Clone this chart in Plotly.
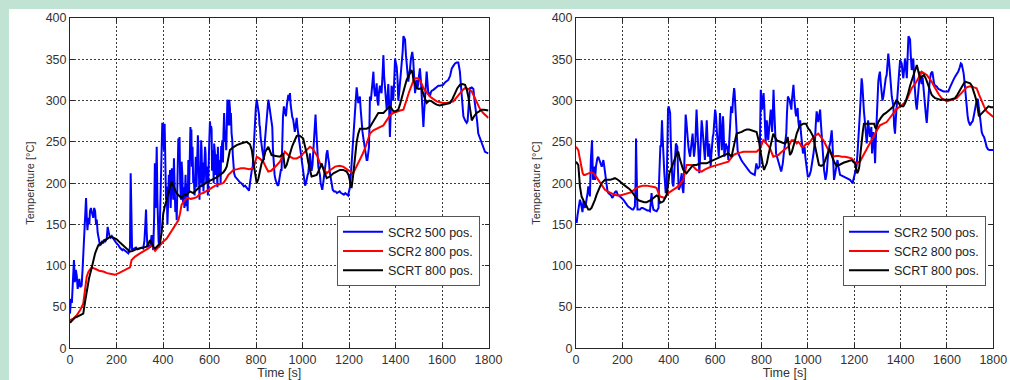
import plotly.graph_objects as go

# ---- measured temperatures: (time [s], temperature [°C]) ----
# Left panel
left_scr2_500 = [
    (0, 42), (4, 60), (8, 55), (12, 80), (17, 107), (21, 80), (25, 95), (29, 88), (33, 72), (36, 78),
    (40, 84), (44, 74), (50, 76), (54, 95), (57, 111), (62, 140), (66, 165), (69, 182), (72, 160), (75, 143),
    (79, 158), (83, 150), (86, 166), (90, 170), (93, 166), (97, 162), (100, 158), (104, 170), (108, 166), (112, 150),
    (115, 156), (119, 140), (122, 135), (126, 128), (129, 125), (134, 126), (139, 130), (143, 127), (148, 132), (153, 130),
    (158, 133), (162, 147), (166, 140), (169, 137), (175, 134), (180, 136), (186, 133), (192, 130), (198, 128), (204, 126),
    (208, 125), (214, 122), (220, 120), (225, 119), (229, 120), (236, 118), (242, 117), (247, 116), (251, 115), (255, 118),
    (258, 123), (261, 212), (264, 140), (267, 119), (272, 120), (278, 121), (284, 122), (290, 120), (296, 121), (302, 121),
    (308, 122), (315, 121), (320, 130), (324, 150), (327, 168), (330, 140), (333, 123), (338, 124), (344, 123), (348, 130),
    (351, 137), (355, 125), (358, 119), (362, 160), (365, 224), (368, 170), (370, 198), (373, 244), (376, 180), (378, 150),
    (381, 130), (384, 122), (387, 160), (390, 200), (394, 250), (397, 273), (401, 268), (404, 240), (407, 272), (410, 220),
    (413, 180), (416, 196), (419, 150), (422, 175), (425, 210), (428, 190), (430, 216), (433, 170), (436, 195), (438, 218),
    (441, 205), (444, 180), (447, 230), (450, 200), (453, 165), (456, 180), (459, 155), (462, 200), (464, 240), (466, 254),
    (469, 230), (471, 256), (474, 200), (477, 180), (480, 226), (483, 212), (486, 175), (489, 195), (492, 170), (494, 188),
    (497, 210), (500, 172), (503, 200), (506, 166), (509, 228), (512, 190), (515, 240), (518, 268), (520, 250), (522, 265),
    (524, 220), (527, 244), (530, 200), (533, 204), (536, 185), (539, 222), (541, 232), (544, 195), (547, 240), (550, 258),
    (552, 245), (555, 210), (557, 180), (559, 220), (562, 200), (564, 252), (566, 240), (569, 195), (572, 225), (574, 190),
    (576, 220), (579, 230), (581, 244), (583, 236), (586, 200), (588, 215), (591, 220), (593, 185), (596, 240), (599, 250),
    (602, 275), (605, 262), (607, 269), (609, 265), (611, 215), (613, 240), (616, 232), (618, 200), (620, 248), (623, 238),
    (626, 210), (628, 235), (631, 222), (634, 195), (636, 244), (638, 232), (641, 210), (643, 228), (645, 222), (648, 200),
    (650, 245), (652, 238), (655, 252), (658, 225), (660, 260), (663, 285), (666, 250), (669, 264), (672, 240), (675, 280),
    (677, 301), (680, 298), (682, 270), (685, 301), (688, 290), (690, 270), (692, 285), (695, 260), (698, 252), (700, 235),
    (703, 218), (706, 212), (710, 208), (715, 206), (720, 204), (725, 203), (731, 201), (737, 200), (743, 198), (748, 196),
    (753, 197), (758, 195), (763, 193), (770, 191), (774, 200), (778, 212), (782, 216), (786, 220), (790, 245), (793, 268),
    (796, 268), (799, 290), (803, 301), (806, 295), (810, 283), (813, 283), (815, 270), (817, 268), (820, 255), (822, 248),
    (824, 248), (827, 240), (830, 235), (834, 228), (838, 250), (842, 265), (846, 273), (849, 290), (853, 301), (856, 296),
    (860, 289), (863, 280), (867, 272), (870, 268), (873, 240), (877, 218), (880, 210), (884, 204), (888, 200), (892, 198),
    (896, 197), (900, 205), (903, 210), (907, 216), (910, 216), (913, 250), (916, 280), (920, 293), (923, 290), (926, 284),
    (929, 281), (933, 295), (936, 305), (939, 307), (942, 300), (946, 309), (949, 295), (953, 285), (956, 280), (960, 277),
    (963, 270), (967, 262), (971, 270), (975, 279), (978, 268), (982, 260), (985, 250), (989, 240), (992, 235), (996, 228),
    (999, 224), (1003, 215), (1007, 205), (1011, 197), (1015, 200), (1018, 206), (1022, 210), (1025, 212), (1029, 230), (1032, 236),
    (1036, 222), (1039, 215), (1043, 222), (1046, 240), (1050, 260), (1053, 275), (1056, 283), (1059, 265), (1061, 250), (1064, 232),
    (1068, 220), (1071, 215), (1075, 210), (1078, 200), (1082, 196), (1085, 192), (1089, 200), (1093, 208), (1096, 215), (1100, 225),
    (1103, 235), (1107, 240), (1110, 232), (1114, 225), (1117, 214), (1121, 205), (1125, 198), (1130, 192), (1136, 190), (1142, 190),
    (1148, 188), (1154, 189), (1160, 190), (1166, 188), (1172, 187), (1178, 186), (1184, 188), (1190, 186), (1196, 185), (1200, 190),
    (1204, 195), (1208, 210), (1212, 230), (1215, 245), (1218, 250), (1222, 270), (1226, 286), (1229, 300), (1233, 316), (1236, 308),
    (1240, 297), (1243, 300), (1247, 305), (1250, 290), (1254, 268), (1258, 262), (1261, 256), (1265, 248), (1269, 236), (1272, 232),
    (1276, 228), (1279, 228), (1283, 236), (1286, 244), (1288, 270), (1290, 305), (1294, 300), (1297, 313), (1301, 325), (1305, 335),
    (1308, 315), (1312, 305), (1315, 310), (1319, 321), (1322, 300), (1326, 294), (1329, 310), (1333, 318), (1336, 312), (1340, 309),
    (1344, 330), (1348, 355), (1351, 330), (1355, 312), (1358, 300), (1362, 290), (1365, 298), (1369, 320), (1372, 300), (1376, 256),
    (1380, 290), (1383, 318), (1387, 312), (1390, 300), (1394, 320), (1398, 351), (1402, 345), (1405, 341), (1409, 325), (1412, 300),
    (1416, 310), (1419, 320), (1423, 330), (1427, 340), (1431, 360), (1434, 378), (1438, 376), (1441, 374), (1445, 355), (1448, 343),
    (1452, 330), (1455, 323), (1459, 332), (1462, 337), (1466, 350), (1469, 356), (1472, 359), (1476, 350), (1479, 330), (1484, 309),
    (1487, 315), (1491, 325), (1494, 315), (1498, 320), (1501, 330), (1505, 339), (1509, 325), (1512, 309), (1516, 290), (1520, 268),
    (1523, 285), (1527, 300), (1530, 320), (1534, 335), (1538, 320), (1541, 310), (1545, 308), (1548, 305), (1552, 310), (1556, 312),
    (1563, 313), (1570, 315), (1577, 316), (1584, 318), (1591, 318), (1598, 319), (1605, 319), (1613, 322), (1620, 324), (1627, 325),
    (1635, 330), (1642, 339), (1649, 342), (1656, 345), (1663, 346), (1670, 346), (1674, 340), (1677, 335), (1681, 320), (1685, 305),
    (1688, 295), (1692, 281), (1699, 276), (1706, 273), (1710, 275), (1713, 285), (1717, 300), (1720, 315), (1728, 316), (1735, 314),
    (1740, 300), (1746, 289), (1751, 275), (1756, 260), (1763, 254), (1770, 248), (1777, 242), (1785, 238), (1792, 237), (1800, 236),
]

left_scr2_800 = [
    (0, 34), (15, 36), (29, 40), (45, 47), (57, 54), (65, 72), (72, 87), (80, 93), (93, 98), (110, 96),
    (125, 94), (143, 93), (160, 91), (178, 90), (193, 89), (210, 91), (225, 93), (236, 95), (250, 97), (258, 98),
    (265, 107), (280, 111), (301, 115), (320, 118), (337, 121), (351, 125), (359, 121), (366, 118), (376, 121), (387, 125),
    (400, 129), (416, 133), (430, 139), (444, 145), (455, 150), (466, 155), (473, 163), (480, 174), (490, 178), (502, 182),
    (509, 182), (520, 181), (535, 182), (545, 183), (559, 187), (573, 188), (590, 191), (609, 194), (625, 197), (645, 199),
    (659, 200), (667, 203), (681, 210), (692, 213), (703, 216), (720, 217), (735, 218), (750, 218), (770, 217), (789, 218),
    (796, 224), (803, 232), (815, 230), (831, 226), (845, 218), (853, 214), (865, 215), (874, 218), (890, 222), (903, 226),
    (915, 232), (924, 238), (935, 235), (946, 232), (960, 230), (975, 230), (989, 232), (1003, 236), (1018, 240), (1032, 244),
    (1043, 242), (1053, 238), (1065, 232), (1075, 224), (1090, 218), (1104, 212), (1120, 216), (1140, 220), (1160, 221), (1175, 220),
    (1190, 217), (1204, 214), (1218, 212), (1232, 220), (1247, 228), (1258, 235), (1269, 242), (1280, 251), (1290, 260), (1305, 264),
    (1319, 266), (1333, 268), (1348, 270), (1362, 276), (1376, 282), (1390, 285), (1405, 287), (1420, 288), (1434, 289), (1441, 294),
    (1448, 301), (1458, 310), (1469, 319), (1477, 324), (1484, 327), (1498, 327), (1510, 322), (1520, 315), (1534, 310), (1548, 305),
    (1562, 302), (1577, 299), (1591, 298), (1605, 297), (1620, 297), (1634, 298), (1649, 299), (1663, 304), (1677, 309), (1690, 313),
    (1699, 315), (1713, 314), (1728, 311), (1738, 305), (1749, 297), (1763, 290), (1777, 285), (1790, 281), (1800, 279),
]

left_scrt_800 = [
    (0, 31), (10, 34), (20, 37), (30, 38), (43, 40), (57, 42), (64, 55), (72, 71), (82, 85), (93, 97),
    (100, 106), (108, 115), (115, 120), (122, 125), (132, 127), (143, 129), (158, 132), (172, 135), (186, 134), (201, 132),
    (215, 128), (230, 124), (245, 120), (258, 117), (270, 118), (285, 120), (301, 121), (315, 122), (330, 123), (338, 127),
    (344, 131), (352, 127), (360, 122), (366, 121), (376, 124), (387, 127), (394, 140), (401, 163), (408, 172), (416, 180),
    (425, 190), (431, 197), (437, 202), (444, 197), (451, 192), (458, 188), (468, 185), (480, 182), (490, 186), (502, 186),
    (516, 190), (530, 188), (545, 192), (559, 196), (573, 198), (588, 201), (609, 204), (631, 207), (645, 210), (659, 213),
    (667, 216), (674, 220), (681, 230), (688, 240), (700, 243), (717, 246), (735, 248), (760, 250), (774, 247), (782, 240),
    (789, 225), (796, 210), (803, 200), (810, 205), (817, 213), (824, 224), (831, 228), (840, 238), (853, 244), (860, 240),
    (867, 234), (885, 233), (903, 232), (910, 234), (917, 236), (924, 218), (932, 222), (940, 230), (946, 236), (956, 245),
    (967, 252), (975, 257), (982, 258), (990, 257), (1003, 254), (1011, 246), (1018, 236), (1025, 225), (1032, 215), (1039, 208),
    (1050, 209), (1061, 210), (1070, 215), (1082, 224), (1092, 215), (1104, 206), (1118, 208), (1133, 212), (1147, 214), (1161, 216),
    (1175, 216), (1190, 214), (1198, 210), (1204, 204), (1211, 194), (1218, 210), (1226, 232), (1233, 250), (1240, 260), (1247, 266),
    (1262, 266), (1276, 266), (1290, 268), (1298, 272), (1305, 276), (1315, 281), (1326, 285), (1337, 285), (1348, 285), (1362, 289),
    (1376, 293), (1384, 290), (1391, 287), (1400, 287), (1412, 289), (1420, 296), (1427, 305), (1438, 315), (1448, 325), (1458, 331),
    (1469, 337), (1474, 332), (1477, 325), (1484, 320), (1491, 315), (1500, 314), (1512, 315), (1522, 306), (1534, 297), (1545, 300),
    (1556, 299), (1566, 297), (1577, 295), (1590, 294), (1605, 295), (1620, 296), (1634, 297), (1645, 302), (1656, 309), (1666, 315),
    (1677, 319), (1688, 320), (1699, 319), (1706, 314), (1713, 305), (1720, 290), (1728, 276), (1738, 281), (1749, 285), (1760, 287),
    (1770, 289), (1781, 289), (1792, 288), (1800, 288),
]

# Right panel
right_scr2_500 = [
    (0, 156), (3, 152), (6, 160), (10, 168), (14, 175), (17, 180), (21, 176), (24, 172), (28, 165), (32, 178),
    (36, 172), (39, 170), (43, 176), (46, 180), (50, 188), (53, 196), (57, 190), (60, 184), (64, 228), (66, 240),
    (69, 252), (71, 230), (73, 204), (76, 212), (78, 220), (80, 210), (82, 204), (86, 220), (89, 228), (92, 230),
    (96, 232), (100, 228), (104, 226), (108, 222), (111, 220), (115, 224), (118, 228), (121, 222), (125, 214), (128, 205),
    (132, 196), (136, 190), (140, 188), (147, 186), (152, 185), (156, 182), (161, 184), (166, 188), (171, 190), (175, 190),
    (180, 186), (185, 185), (190, 184), (195, 182), (200, 181), (204, 180), (210, 177), (215, 175), (219, 174), (224, 172),
    (228, 171), (233, 170), (238, 169), (243, 168), (247, 168), (250, 170), (254, 172), (257, 200), (259, 254), (261, 220),
    (263, 180), (265, 168), (270, 168), (276, 168), (282, 170), (288, 170), (293, 169), (298, 168), (303, 168), (308, 167),
    (313, 167), (319, 166), (322, 175), (326, 188), (329, 175), (331, 168), (334, 168), (339, 167), (344, 166), (348, 166),
    (352, 168), (356, 170), (358, 200), (361, 240), (364, 246), (367, 244), (369, 260), (371, 276), (373, 260), (375, 244),
    (378, 228), (381, 212), (384, 200), (387, 188), (389, 192), (391, 196), (393, 240), (394, 285), (397, 290), (400, 293),
    (403, 290), (406, 285), (409, 250), (411, 230), (413, 212), (416, 200), (420, 196), (423, 210), (427, 228), (429, 240),
    (431, 248), (434, 246), (437, 244), (440, 215), (443, 192), (446, 194), (449, 196), (452, 205), (456, 212), (459, 195),
    (463, 188), (465, 200), (467, 220), (470, 250), (473, 283), (476, 275), (479, 260), (482, 250), (485, 244), (488, 238),
    (492, 232), (495, 240), (499, 252), (501, 258), (503, 260), (506, 245), (509, 232), (512, 240), (515, 250), (518, 275),
    (520, 289), (523, 270), (526, 252), (529, 230), (532, 212), (535, 230), (537, 244), (540, 260), (542, 276), (545, 268),
    (547, 260), (549, 252), (552, 240), (556, 228), (559, 245), (562, 262), (564, 276), (567, 255), (570, 232), (572, 238),
    (575, 248), (578, 234), (581, 220), (584, 235), (587, 252), (590, 256), (593, 260), (596, 275), (600, 289), (602, 286),
    (604, 281), (607, 265), (610, 248), (613, 240), (616, 232), (618, 255), (621, 285), (624, 270), (627, 250), (629, 240),
    (631, 255), (634, 281), (636, 270), (638, 255), (640, 232), (643, 240), (646, 248), (649, 245), (652, 244), (655, 236),
    (657, 228), (660, 245), (663, 264), (666, 278), (669, 293), (671, 290), (674, 285), (677, 300), (680, 313), (682, 315),
    (684, 311), (686, 300), (688, 281), (691, 262), (694, 244), (697, 240), (700, 236), (706, 232), (713, 228), (720, 225),
    (727, 222), (735, 219), (742, 216), (749, 214), (756, 212), (763, 211), (771, 210), (775, 218), (778, 224), (781, 220),
    (785, 218), (788, 219), (792, 220), (794, 260), (797, 313), (800, 300), (803, 289), (806, 300), (809, 309), (812, 295),
    (814, 281), (816, 262), (818, 248), (820, 262), (823, 276), (826, 264), (829, 252), (832, 262), (835, 272), (838, 280),
    (840, 289), (843, 275), (846, 262), (849, 285), (852, 313), (855, 290), (858, 268), (861, 250), (863, 236), (867, 232),
    (871, 228), (874, 224), (878, 220), (881, 216), (885, 214), (888, 218), (892, 224), (896, 235), (900, 244), (903, 252),
    (907, 260), (910, 285), (914, 305), (917, 303), (921, 301), (925, 295), (929, 289), (931, 300), (933, 309), (936, 314),
    (938, 319), (941, 305), (944, 289), (947, 285), (950, 281), (953, 286), (956, 291), (959, 275), (962, 268), (965, 272),
    (967, 276), (970, 262), (973, 252), (976, 245), (979, 236), (982, 240), (986, 244), (989, 232), (993, 220), (996, 214),
    (1000, 208), (1004, 208), (1008, 210), (1013, 215), (1017, 222), (1021, 225), (1024, 235), (1028, 245), (1031, 252), (1034, 270),
    (1038, 287), (1042, 280), (1045, 274), (1049, 282), (1053, 289), (1057, 270), (1060, 255), (1064, 240), (1067, 228), (1070, 216),
    (1073, 210), (1076, 204), (1079, 208), (1082, 214), (1086, 230), (1089, 240), (1093, 245), (1096, 248), (1099, 256), (1103, 264),
    (1106, 250), (1110, 225), (1113, 204), (1117, 210), (1120, 216), (1124, 225), (1128, 228), (1132, 220), (1135, 214), (1139, 210),
    (1146, 209), (1153, 208), (1160, 207), (1167, 206), (1175, 205), (1182, 204), (1188, 202), (1193, 200), (1198, 206), (1203, 212),
    (1206, 216), (1210, 220), (1214, 235), (1218, 248), (1221, 268), (1225, 287), (1228, 305), (1232, 327), (1235, 320), (1237, 305),
    (1240, 295), (1242, 287), (1246, 275), (1250, 262), (1254, 248), (1257, 260), (1260, 276), (1264, 265), (1268, 256), (1271, 262),
    (1274, 268), (1277, 236), (1280, 255), (1283, 262), (1287, 245), (1290, 224), (1293, 250), (1297, 287), (1300, 305), (1304, 323),
    (1307, 330), (1311, 335), (1315, 320), (1318, 310), (1322, 300), (1326, 305), (1330, 315), (1333, 322), (1336, 327), (1340, 331),
    (1344, 345), (1347, 357), (1351, 345), (1354, 337), (1358, 320), (1362, 305), (1365, 297), (1369, 293), (1372, 270), (1376, 260),
    (1380, 280), (1383, 295), (1387, 310), (1390, 321), (1394, 335), (1398, 349), (1401, 347), (1405, 345), (1408, 335), (1412, 327),
    (1416, 340), (1419, 351), (1423, 340), (1427, 327), (1430, 350), (1434, 378), (1438, 376), (1441, 374), (1444, 355), (1448, 337),
    (1452, 344), (1455, 351), (1459, 325), (1463, 305), (1466, 297), (1470, 289), (1473, 300), (1477, 318), (1480, 327), (1484, 335),
    (1488, 325), (1491, 320), (1495, 328), (1499, 315), (1503, 295), (1506, 285), (1510, 280), (1513, 273), (1517, 290), (1520, 310),
    (1524, 318), (1528, 328), (1531, 333), (1537, 335), (1541, 328), (1545, 320), (1550, 318), (1556, 317), (1563, 314), (1570, 313),
    (1578, 312), (1585, 311), (1592, 311), (1599, 311), (1606, 311), (1613, 316), (1620, 321), (1628, 325), (1635, 329), (1642, 332),
    (1649, 335), (1655, 340), (1660, 345), (1664, 344), (1668, 340), (1672, 333), (1675, 325), (1679, 312), (1682, 300), (1686, 289),
    (1689, 282), (1693, 275), (1697, 273), (1700, 270), (1705, 273), (1711, 275), (1715, 280), (1720, 290), (1728, 300), (1733, 302),
    (1737, 290), (1743, 279), (1747, 270), (1750, 262), (1755, 258), (1760, 256), (1766, 250), (1771, 244), (1777, 241), (1783, 240),
    (1791, 240), (1800, 240),
]

right_scr2_800 = [
    (0, 244), (5, 242), (10, 240), (15, 232), (20, 224), (25, 216), (29, 212), (34, 210), (39, 210), (46, 211),
    (53, 212), (60, 213), (67, 213), (75, 212), (82, 210), (89, 207), (96, 204), (104, 201), (111, 198), (118, 195),
    (125, 192), (136, 190), (147, 188), (158, 187), (168, 186), (179, 185), (190, 185), (204, 186), (219, 187), (230, 188),
    (240, 189), (247, 191), (254, 193), (265, 195), (276, 196), (290, 197), (305, 197), (320, 196), (334, 196), (341, 195),
    (348, 194), (355, 189), (362, 184), (373, 183), (384, 182), (391, 185), (398, 188), (409, 190), (420, 192), (430, 194),
    (441, 196), (452, 200), (463, 204), (470, 213), (477, 222), (488, 222), (499, 222), (510, 219), (520, 216), (531, 215),
    (542, 214), (553, 216), (564, 218), (575, 219), (585, 220), (596, 221), (607, 222), (621, 223), (636, 224), (647, 225),
    (657, 226), (668, 230), (679, 234), (686, 235), (693, 236), (708, 237), (722, 238), (737, 238), (751, 238), (765, 238),
    (779, 238), (787, 240), (794, 242), (801, 247), (808, 252), (816, 250), (823, 248), (830, 245), (837, 242), (844, 237),
    (851, 232), (862, 233), (873, 234), (884, 237), (894, 240), (905, 242), (916, 244), (923, 248), (930, 252), (938, 252),
    (945, 251), (952, 248), (959, 250), (966, 248), (973, 244), (981, 244), (988, 246), (995, 248), (1002, 247), (1010, 250),
    (1017, 253), (1024, 256), (1035, 258), (1045, 260), (1056, 256), (1067, 252), (1078, 246), (1089, 240), (1100, 236), (1110, 232),
    (1121, 233), (1132, 233), (1146, 232), (1160, 232), (1175, 231), (1189, 230), (1198, 227), (1208, 224), (1216, 225), (1225, 226),
    (1236, 232), (1247, 238), (1258, 243), (1268, 248), (1279, 254), (1290, 260), (1300, 265), (1311, 270), (1326, 272), (1340, 274),
    (1351, 278), (1362, 282), (1372, 286), (1383, 290), (1394, 292), (1405, 294), (1416, 297), (1427, 301), (1438, 308), (1448, 315),
    (1459, 319), (1469, 323), (1480, 329), (1491, 335), (1502, 333), (1513, 331), (1524, 327), (1534, 323), (1545, 317), (1556, 311),
    (1566, 307), (1577, 303), (1588, 301), (1599, 299), (1610, 300), (1620, 301), (1631, 302), (1642, 303), (1652, 306), (1663, 309),
    (1674, 313), (1685, 316), (1696, 317), (1707, 317), (1717, 316), (1728, 315), (1739, 307), (1750, 299), (1760, 293), (1771, 287),
    (1782, 284), (1793, 281), (1800, 280),
]

right_scrt_800 = [
    (0, 226), (10, 222), (17, 196), (24, 184), (32, 179), (39, 176), (46, 172), (53, 168), (60, 168), (67, 170),
    (75, 175), (82, 180), (89, 186), (96, 192), (104, 196), (111, 200), (118, 202), (125, 204), (136, 204), (147, 204),
    (158, 205), (168, 206), (176, 205), (183, 204), (190, 202), (197, 200), (208, 198), (219, 196), (230, 193), (240, 190),
    (251, 185), (262, 181), (272, 179), (283, 178), (294, 177), (305, 177), (315, 178), (326, 180), (334, 182), (341, 184),
    (348, 185), (355, 184), (362, 176), (370, 177), (377, 178), (384, 182), (391, 186), (397, 198), (403, 212), (411, 218),
    (420, 224), (427, 230), (434, 236), (441, 238), (447, 230), (452, 224), (458, 220), (463, 216), (470, 214), (477, 212),
    (485, 215), (492, 218), (499, 220), (506, 222), (520, 222), (535, 224), (549, 224), (564, 224), (578, 226), (593, 228),
    (607, 230), (621, 232), (636, 234), (647, 235), (657, 236), (664, 234), (671, 232), (677, 240), (682, 248), (688, 254),
    (693, 260), (704, 261), (715, 262), (726, 264), (736, 265), (747, 265), (758, 264), (768, 263), (779, 262), (785, 255),
    (791, 248), (796, 238), (801, 228), (806, 222), (811, 216), (817, 220), (823, 224), (830, 234), (837, 244), (844, 252),
    (851, 260), (858, 256), (866, 252), (873, 251), (880, 250), (891, 249), (902, 248), (908, 250), (913, 256), (918, 246),
    (923, 234), (931, 238), (938, 244), (945, 252), (952, 260), (959, 265), (966, 270), (974, 271), (981, 272), (992, 272),
    (1002, 266), (1009, 264), (1017, 260), (1024, 256), (1031, 245), (1038, 234), (1043, 226), (1048, 222), (1057, 221), (1067, 222),
    (1074, 227), (1081, 232), (1087, 238), (1093, 242), (1100, 236), (1106, 230), (1110, 228), (1117, 224), (1124, 221), (1135, 222),
    (1146, 224), (1156, 225), (1167, 226), (1178, 227), (1189, 228), (1196, 226), (1203, 224), (1208, 218), (1213, 212), (1218, 215),
    (1222, 220), (1227, 236), (1232, 252), (1237, 262), (1242, 272), (1252, 272), (1261, 272), (1274, 272), (1286, 272), (1290, 268),
    (1294, 266), (1299, 270), (1304, 274), (1315, 279), (1326, 283), (1337, 285), (1347, 287), (1358, 290), (1369, 293), (1376, 297),
    (1383, 301), (1390, 298), (1398, 294), (1405, 293), (1412, 293), (1420, 297), (1427, 303), (1434, 310), (1441, 318), (1448, 325),
    (1456, 332), (1463, 337), (1470, 343), (1474, 338), (1477, 332), (1484, 327), (1492, 329), (1501, 331), (1510, 326), (1520, 319),
    (1527, 313), (1534, 307), (1541, 305), (1549, 303), (1560, 302), (1570, 301), (1581, 301), (1592, 301), (1602, 301), (1613, 301),
    (1624, 302), (1635, 303), (1645, 307), (1656, 313), (1667, 318), (1678, 323), (1689, 322), (1700, 321), (1707, 318), (1714, 313),
    (1721, 306), (1728, 299), (1733, 290), (1738, 281), (1745, 283), (1751, 285), (1757, 287), (1768, 290), (1779, 293), (1790, 292),
    (1800, 292),
]

series_names = ["SCR2 500 pos.", "SCR2 800 pos.", "SCRT 800 pos."]
series_colors = ["#0000ff", "#ff0000", "#000000"]

x_ticks = [0, 200, 400, 600, 800, 1000, 1200, 1400, 1600, 1800]
y_ticks = [0, 50, 100, 150, 200, 250, 300, 350, 400]

# ---- figure ----
W, H = 1010, 380
FONT = "Arial, 'Liberation Sans', Helvetica, sans-serif"

fig = go.Figure()

panels = [
    ("x", "y", "legend", [left_scr2_500, left_scr2_800, left_scrt_800]),
    ("x2", "y2", "legend2", [right_scr2_500, right_scr2_800, right_scrt_800]),
]
for xa, ya, leg, data in panels:
    for name, color, pts in zip(series_names, series_colors, data):
        t, temp = zip(*pts)
        fig.add_trace(go.Scatter(
            x=list(t), y=list(temp), mode="lines", name=name,
            line=dict(color=color, width=2), xaxis=xa, yaxis=ya, legend=leg,
        ))

def px_x(p):
    return p / W

def px_y(p):
    return (H - p) / H

axis_common = dict(
    automargin=False,
    showline=True, mirror="ticks", linecolor="#262626", linewidth=1,
    ticks="inside", ticklen=4, tickcolor="#262626", tickwidth=1,
    showgrid=True, gridcolor="#3a3a3a", gridwidth=1, griddash="2px,2px",
    zeroline=False, tickfont=dict(family=FONT, size=12.5, color="#333333"),
)

y_dom = [px_y(348.3), px_y(18)]

legend_common = dict(
    xanchor="left", yanchor="top", bgcolor="#ffffff", bordercolor="#555555", borderwidth=1,
    font=dict(family=FONT, size=12.5, color="#222222"), tracegroupgap=0, itemwidth=40,
)

fig.update_layout(
    width=W, height=H,
    margin=dict(l=0, r=0, t=0, b=0, autoexpand=False),
    paper_bgcolor="#c0e3d3",
    plot_bgcolor="#ffffff",
    font=dict(family=FONT, size=12, color="#333333"),
    xaxis=dict(domain=[px_x(70), px_x(488.5)], range=[0, 1800], tickvals=x_ticks,
               title=dict(text="Time [s]", font=dict(size=12.5), standoff=2), anchor="y", **axis_common),
    yaxis=dict(domain=y_dom, range=[0, 400], tickvals=y_ticks,
               title=dict(text="Temperature [°C]", font=dict(size=11), standoff=8), anchor="x", **axis_common),
    xaxis2=dict(domain=[px_x(576), px_x(993.3)], range=[0, 1800], tickvals=x_ticks,
                title=dict(text="Time [s]", font=dict(size=12.5), standoff=2), anchor="y2", **axis_common),
    yaxis2=dict(domain=y_dom, range=[0, 400], tickvals=y_ticks,
                title=dict(text="Temperature [°C]", font=dict(size=11), standoff=8), anchor="x2", **axis_common),
    legend=dict(x=px_x(337), y=px_y(216), **legend_common),
    legend2=dict(x=px_x(843), y=px_y(216), **legend_common),
    shapes=[dict(type="rect", xref="paper", yref="paper", x0=px_x(9), x1=1, y0=0, y1=px_y(9),
                 fillcolor="#ffffff", line=dict(width=0), layer="below")],
)

fig.write_html("out.html")
